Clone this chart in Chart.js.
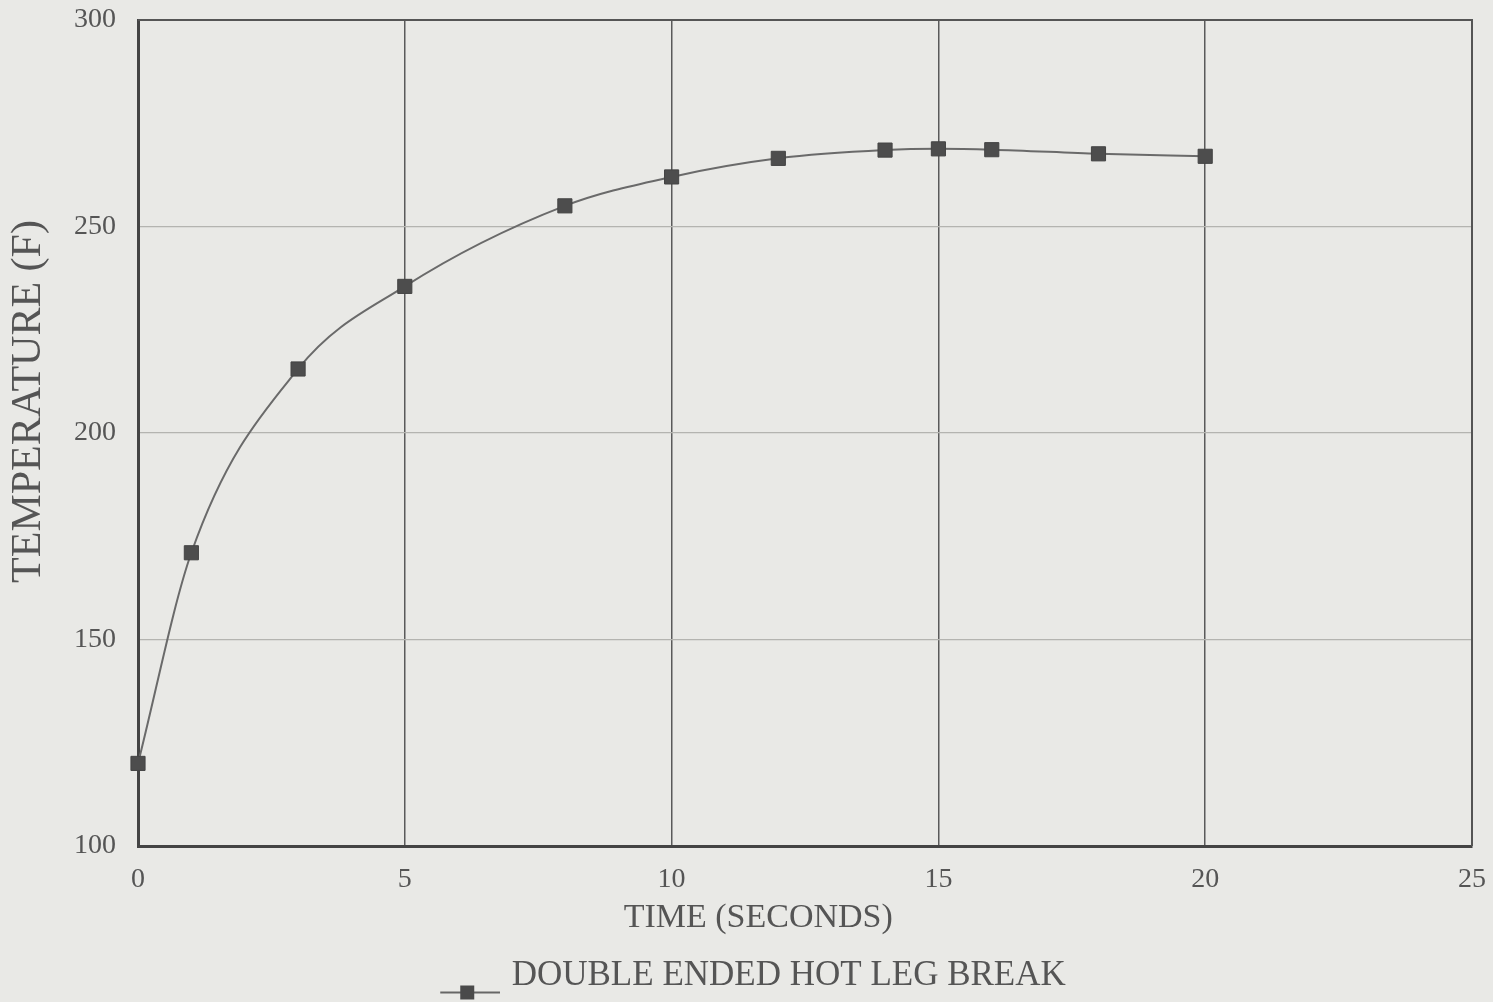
<!DOCTYPE html>
<html>
<head>
<meta charset="utf-8">
<script src="https://cdn.jsdelivr.net/npm/chart.js@4/dist/chart.umd.min.js"></script>
<style>
  html, body { margin: 0; padding: 0; background: #e9e9e6; }
  #wrap { width: 1493px; height: 1002px; }
</style>
</head>
<body>
<div id="wrap"><canvas id="tempChart" width="1493" height="1002"></canvas></div>
<script>
// --- dati ---
const timeSeconds = [0, 1, 3, 5, 8, 10, 12, 14, 15, 16, 18, 20];
const temperatureF = [120, 171, 215.5, 235.5, 255, 262, 266.5, 268.5, 268.8, 268.6, 267.6, 267];
const seriesLabel = 'DOUBLE ENDED HOT LEG BREAK';
const xTicks = [0, 5, 10, 15, 20, 25];
const yTicks = [100, 150, 200, 250, 300];

const ink = '#555';
const serif = "'Liberation Serif', 'DejaVu Serif', serif";
const nb = n => '\u00a0'.repeat(n);

// marker per la legenda: linea + quadrato, un po' sotto il testo
function legendMarker() {
    const c = document.createElement('canvas');
    c.width = 100; c.height = 60;
    const g = c.getContext('2d');
    g.strokeStyle = '#666';
    g.lineWidth = 2;
    g.beginPath(); g.moveTo(40, 47); g.lineTo(100, 47); g.stroke();
    g.fillStyle = '#4a4a4a';
    g.fillRect(60, 40, 14, 14);
    return c;
}

const ctx = document.getElementById('tempChart').getContext('2d');
const chart = new Chart(ctx, {
    type: 'line',
    data: {
        datasets: [{
            label: seriesLabel,
            data: timeSeconds.map((t, i) => ({ x: t, y: temperatureF[i] })),
            borderColor: '#6a6a6a',
            borderWidth: 2,
            pointStyle: 'rect',
            pointRadius: 10,
            pointBackgroundColor: '#4d4d4d',
            pointBorderColor: '#444',
            pointBorderWidth: 1,
            cubicInterpolationMode: 'monotone',
            clip: false,
            fill: false
        }]
    },
    options: {
        responsive: false,
        animation: false,
        devicePixelRatio: 1,
        layout: { padding: { left: 0, top: 20, right: 21, bottom: -1 } },
        scales: {
            x: {
                type: 'linear',
                min: 0, max: 25,
                afterBuildTicks: axis => { axis.ticks = xTicks.map(v => ({ value: v })); },
                afterFit: axis => { axis.height = 98; axis.paddingLeft = 0; axis.paddingRight = 0; },
                grid: { color: '#5a5a5a', lineWidth: 1.5, drawTicks: false },
                border: { color: '#444', width: 3 },
                ticks: { color: ink, font: { family: serif, size: 28 }, padding: 17 },
                title: {
                    display: true, text: 'TIME (SECONDS)' + nb(11), color: ink,
                    font: { family: serif, size: 34 }, padding: { top: 0, bottom: 6 }
                }
            },
            y: {
                min: 100, max: 300,
                afterBuildTicks: axis => { axis.ticks = yTicks.map(v => ({ value: v })); },
                afterFit: axis => { axis.width = 138; axis.paddingTop = 0; axis.paddingBottom = 0; },
                grid: { color: '#b4b4b0', lineWidth: 1.2, drawTicks: false },
                border: { color: '#444', width: 3 },
                ticks: { color: ink, font: { family: serif, size: 28 }, padding: 22 },
                title: {
                    display: true, text: nb(6) + 'TEMPERATURE (F)', color: ink,
                    font: { family: serif, size: 42 }, padding: { bottom: 2 }
                }
            }
        },
        plugins: {
            legend: {
                position: 'bottom',
                labels: {
                    color: ink,
                    font: { family: serif, size: 35 },
                    usePointStyle: true,
                    pointStyle: legendMarker(),
                    pointStyleWidth: 88,
                    padding: 14
                }
            },
            tooltip: { enabled: false }
        }
    },
    plugins: [{
        // bordo superiore e destro del riquadro
        id: 'frame',
        afterDraw(c) {
            const a = c.chartArea, g = c.ctx;
            g.save();
            g.strokeStyle = '#555';
            g.lineWidth = 2;
            g.beginPath();
            g.moveTo(a.left, a.top); g.lineTo(a.right, a.top); g.lineTo(a.right, a.bottom);
            g.stroke();
            g.restore();
        }
    }]
});
</script>
</body>
</html>
